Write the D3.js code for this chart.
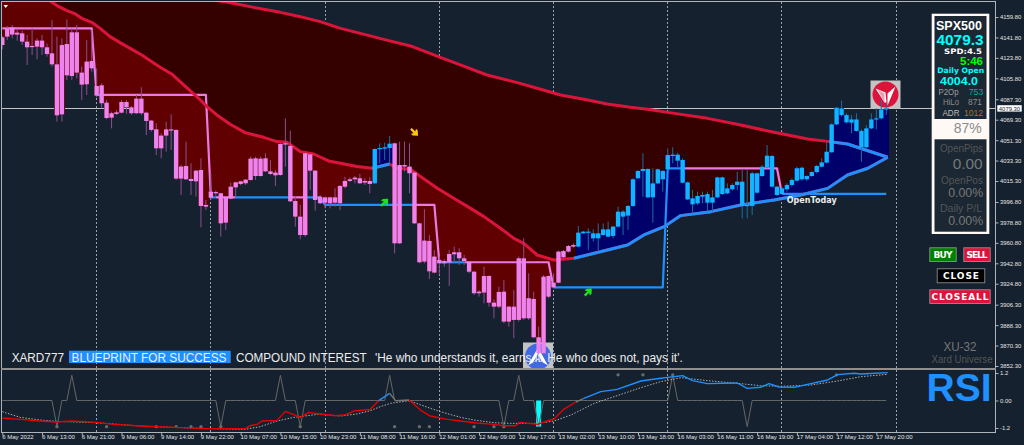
<!DOCTYPE html>
<html><head><meta charset="utf-8">
<script src="https://cdnjs.cloudflare.com/ajax/libs/d3/7.8.5/d3.min.js"></script>
<style>html,body{margin:0;padding:0;background:#15212e;overflow:hidden}svg{display:block}</style>
</head><body><svg id="c" width="1024" height="445"></svg>
<script>
const bodyTop=[4141.9,4149.8,4150.7,4146,4145.4,4138.1,4134.3,4139,4139,4133.1,4127.8,4118.1,4135.1,4136,4146.3,4146.3,4110.8,4120.5,4121,4099,4099.6,4084.3,4075,4075.8,4084.9,4084.9,4080.2,4087.9,4087.9,4075.5,4068.5,4060.8,4055.3,4060.8,4060.8,4060.3,4028,4028.5,4017.1,4024.4,4025,3994.2,4005.9,4005.6,4004.5,4001.5,4010.3,4014.1,4015,4016.5,4035,4035.3,4035,4035.3,4023.8,4022.7,4047.9,4048.5,4046.2,3997.7,3983.9,4039.7,4038.8,4024.4,4001.5,4000.9,4000.9,4000.9,4010.9,
4015.3,4016.8,4018.3,4017.7,4015.3,4015.3,4043.5,4044.4,4045,4048.2,4048.5,4029.4,4029.4,4028,4022.7,3978,3962.8,3962.5,3948.7,3945.7,3944.8,3951,3952.5,3952.5,3947.2,3944.3,3935.4,3917.8,3931.6,3931.6,3908.1,3917.5,3917.8,3904.6,3904.6,3947.2,3947.2,3912,3911.4,3877.6,3931,3931.6,3925.7,3953.1,3953.6,3958,3958.9,3969.8,3970.7,3970.7,3969.2,3969.2,3972.7,3972.7,3975.1,3988.3,3988.3,3993.3,4016.8,4024.1,
4025.9,4025.9,4013.2,4025.6,4024.1,4038.2,4038.5,4038.5,4033.8,4014.1,4000,4002.1,4003,4003.8,4000.9,4018.5,4018.5,4008.8,4011.8,4014.7,4014.7,3994.2,4022.1,4022.1,4027.9,4037.6,4037.3,4010.3,4008.8,4011.8,4016.2,4026.5,4027,4019.7,4023.2,4028.5,4031.7,4041.1,4065.2,4079.9,4079.3,4073.4,4069.6,4069.6,4059.4,4061.7,4069.6,4070.5,4078.4,4079.3];
const bodyBottom=[4135.1,4142.5,4144.3,4144.3,4138.1,4133.1,4133.4,4133.7,4133.1,4127.2,4118.1,4073.2,4074,4108.4,4107.8,4110.8,4100.2,4100.5,4114.6,4090.5,4083.8,4070.8,4071.1,4074.4,4075.5,4080.2,4075,4075,4075,4068.2,4060.3,4044.1,4044.1,4055.3,4059.7,4017.4,4017.4,4016.8,4015.3,4015,3993.3,3992.7,4000.6,4004.5,3978,3978.6,3999.8,4009.7,4012.7,4013.3,4016.2,4019.7,4019.7,4023.8,4021.5,4020.3,4020.6,4047.9,3997.4,3983.9,3967.7,3967.7,4024.4,3998.6,3995.7,3996.2,3995.7,3996.2,3995.7,
4010.3,4015.3,4016.8,4013.3,4013.9,4012.7,4013.3,4043.5,4043.8,4044.4,3960.4,3960.4,4028,4022.1,3978,3943.7,3944.3,3935.7,3934.6,3942.8,3942.8,3943.4,3950.7,3947.2,3944.8,3935.4,3916.4,3916.4,3917,3908.1,3904.6,3904.6,3891.4,3891.4,3892.9,3892.9,3894.3,3894.3,3877.6,3863.5,3863.5,3913.4,3921.6,3925.7,3948.1,3953.1,3957.5,3957.5,3969.2,3969.8,3964.8,3964.8,3967.7,3966.3,3966.9,3975.1,3983.9,3984.8,3993.3,4017.7,
4024.1,4000.9,4000.9,4013.2,4016.8,4025.6,4037.3,4033.2,4013.8,3999.1,3994.7,3995.6,4001.5,3996.2,3996.2,4000.9,4003.8,4004.4,4008,4011.8,3993.3,3993.3,3993.3,4005,4019.7,4027.3,4010.3,4003,4003.8,4008,4011.8,4015.6,4016.8,4016.8,4019.7,4023.2,4027.9,4031.5,4040.6,4065.2,4073.4,4067,4066.7,4059.4,4045,4045,4061.7,4069.6,4070.5,4078.4];
const highs=[4143.1,4151.9,4152.8,4148.4,4147.8,4144,4149.8,4141,4144,4136.6,4157.2,4142.5,4141,4157.8,4149.8,4152.8,4116.1,4139.6,4148.4,4114.6,4101.4,4086.7,4076.4,4077.9,4086.7,4086.7,4081.4,4091.1,4097.9,4076.4,4069.1,4066.1,4057.3,4067.6,4074,4060.8,4029.4,4050,4030.9,4025,4035.3,3998.6,4022.1,4006.8,4005,4002.1,4013.8,4014.7,4015.6,4017.1,4036.8,4036.8,4036.8,4039.7,4033.8,4025,4048.5,4070.5,4059.7,4001.5,3994.2,4040.3,4039.7,4025,4003,4001.5,4001.5,4008.9,4011.8,
4019.1,4018.6,4019.7,4021.5,4017.7,4018.6,4044.1,4048.5,4049.1,4055,4049.1,4050,4050,4048.5,4023.3,3978.6,3990.4,3967.7,3954.5,3948.7,3946.3,3954.5,3957.5,3956,3950.1,3944.8,3936,3919.3,3939.8,3932.2,3911,3922.2,3928.1,3905.2,3919.3,3948.7,3964.8,3934,3917.8,3887,3932.5,3932.2,3934,3954,3954.5,3958.9,3960.4,3975.7,3971.3,3973.6,3972.7,3978,3978,3979.5,3975.7,3992.7,3989.8,3994.2,4017.7,4025,
4039.7,4026.5,4026.5,4026.2,4025,4044.1,4045,4040.3,4035.3,4014.7,4007.4,4005.9,4005.9,4005.9,4007.4,4019.1,4019.1,4013.2,4013.2,4023.5,4025,4025,4023.5,4022.6,4029.4,4047,4038.2,4010.9,4010.3,4013.2,4017.7,4027.9,4027.9,4020.3,4023.8,4029.4,4035.3,4049.9,4066.1,4080.2,4086.1,4074.9,4073.4,4074.9,4060.8,4064.6,4074.9,4079.3,4086.7,4083.7];
const lows=[4131.3,4139.6,4141,4139,4135.1,4117.5,4126.3,4122.5,4126.3,4124.9,4116.1,4067.6,4067.6,4104.3,4104.3,4105.8,4086.7,4091.1,4111.7,4089,4079.3,4069.7,4061.7,4073.5,4075,4074.4,4073.5,4074.4,4073.5,4055.9,4058.8,4038.2,4035.3,4041.2,4042.6,4016.2,4003,4016.2,4003,4001.5,3974.5,3989.8,3998.6,4001.5,3966.3,3972.1,3999.2,4001.5,4011.5,4011.8,4015.6,4016.2,4019.1,4023.3,4020.6,4010.9,4020,4028,3996.8,3975.1,3963.9,3966.3,4007.4,3989.2,3995,3991.2,3991.2,3992.7,3989.8,
4008.9,4014.4,4013.3,4012.7,4011.8,4004.5,4012.7,4030.9,4033.8,4030.9,3951.6,3959.8,4023.6,4004.5,3977.4,3942.8,3942.8,3929,3934,3932.5,3939.8,3922.8,3942.8,3941.3,3941.3,3934,3914.9,3913.4,3907.5,3904.6,3894.3,3903.1,3889.9,3887,3876.7,3891.4,3892.9,3892.9,3876.7,3862.9,3862,3912,3920.8,3925.2,3947.2,3952.2,3956.6,3956.9,3968.6,3954.5,3961.9,3954.5,3967.2,3965.7,3964.8,3974.5,3967.7,3972.2,3992.7,4017.1,
4001.5,4000,3978.6,4012.7,4005.9,4025,4030.9,4026.5,4013.2,3998.6,3986.8,3994.2,3995.6,3988.3,3988.3,4000,4003,4003.8,4006.8,4007.4,3982.4,3982.4,3985.3,4004.4,4019.1,4026.5,4009.7,4002.1,4003,4005.9,4010.3,4014.7,4015.6,4015.6,4019.1,4022.1,4027.3,4030.9,4040.3,4064.6,4072,4066.1,4057.3,4058.8,4032.3,4044.1,4060.8,4060.8,4069.6,4073.4];
const risingBars=[[75,78],[116,178]];

const fastBars=[0,9.9,11,13,14.7,16,18,19.7,21.7,23.7,26.1,28.1,29.8,31.8,34.1,35.8,37.8,39.9,41.2,43.2,45.9,48.9,52.6,55.3,57.3,60,62.7,65.7,68.1,71.4,74.5,78,79.5,82.2,84.2,87.6,90.9,94.3,97,100.3,103,105,107.7,111.1,115.1,119.2,125.9,129.2,133.3,136.6,142.7,148.7,155.4,160.8,166.2,170.2,174.3,178.3];
const fastVals=[4200,4173.3,4169.8,4165.4,4162.5,4158.6,4155.1,4149.8,4142.5,4137.2,4131.3,4126.3,4121.3,4115.5,4109.6,4102.8,4094.9,4086.7,4080.8,4073.5,4065.3,4057.9,4053.8,4050,4049.4,4041.2,4039.1,4033,4030.9,4028,4026.5,4030.3,4026.5,4025.6,4019.2,4008.9,4000.1,3991.2,3983.9,3973.6,3964.8,3960.4,3950.1,3945.7,3947.2,3951.6,3958.9,3967.8,3975.1,3984.8,3988.3,3994.2,3998.6,4003,4008.8,4020.6,4026.5,4036.2];
const fastUp=[[74.5,78],[115.1,178.3]];
const slowBars=[0,43.5,46.6,50.6,56,60,64,68.1,72.1,76.8,82.2,88.2,92.9,97.6,103.7,108.4,112.4,117.1,121.8,126.5,129.9,135.3,142,148.7,155.4,162.2,166.5,170.2,178.3];
const slowVals=[4240,4174.2,4171.9,4168.3,4163.9,4160.1,4155.7,4149.8,4145.4,4140.1,4134.3,4124.3,4116.6,4108.7,4102,4096.1,4091.1,4087.3,4083.2,4080.2,4078.5,4074.9,4070.5,4064.6,4058.2,4052.3,4050,4047.9,4036.2];
const slowUp=[[166.5,178.3]];

const dayStart=[0,19,42,65,88,111,134,157];
const dayOpen=[4149.8,4091.1,4000.9,3994.2,3943.7,3921.6,4026.5,4004.0];
const openAbove=[[19,20],[42,43],[47,58],[61,83],[88,93],[111,137],[157,178]];
const openBelow=[[0,19],[20,42],[43,47],[58,61],[83,88],[93,111],[137,157]];

const rsiBars=[0,3.6,7.6,11,14,19,22.4,27.8,34.5,39.9,48.9,49.9,51.3,52.3,55.3,57,60,61.7,64,67.1,69.1,71.1,74.1,75.8,78,79.2,81.9,84.2,86.2,89.6,92.3,95.6,99,101,103.4,104.2,107.7,109.7,111.1,113.1,115.5,117.1,120.5,123.8,128.6,132.6,137,139,142,148,150,152.7,154.4,156.4,159.5,162.8,166.2,168.2,171.5,172.9,178.3];
const rsiVals=[-0.765,-0.823,-0.896,-0.94,-0.896,-0.954,-1.042,-1.114,-1.173,-1.216,-1.231,-1.1,-1.042,-0.896,-0.867,-0.474,-0.736,-0.517,-0.59,-0.663,-0.62,-0.445,-0.386,-0.008,0.312,-0.008,0.021,-0.416,-0.678,-0.823,-0.896,-0.983,-1.042,-1.1,-1.1,-0.954,-1.042,-0.896,-0.809,-0.372,-0.066,0.094,0.385,0.487,0.851,0.968,1.084,0.866,0.735,0.764,0.531,0.575,0.735,0.589,0.575,0.735,0.895,1.128,1.186,1.157,1.215];
const rsiColour=[[0,75.8,"#e60000"],[75.8,78,"#1e90ff"],[78,81.9,"#777777"],[81.9,115.5,"#e60000"],[115.5,117.1,"#777777"],[117.1,178.3,"#1e90ff"]];
const sigBars=[0,3.6,7.6,11,19,27.8,34.5,39.9,48.9,51.9,55.3,58.7,64,68.1,71.4,74.1,76.1,78.2,81.9,84.9,88.2,92.3,95,99,102.4,107.7,111.1,114.5,119.2,123.2,128.6,132.6,136.7,142,148,152.7,156.8,162.8,168.2,172.9,178.3];
const sigVals=[-0.488,-0.736,-0.852,-0.911,-0.969,-1.114,-1.173,-1.216,-1.26,-1.144,-0.896,-0.736,-0.59,-0.678,-0.59,-0.445,-0.27,-0.124,-0.008,-0.241,-0.488,-0.736,-0.852,-0.969,-0.998,-0.998,-0.896,-0.634,-0.124,0.167,0.56,0.822,0.997,0.866,0.749,0.647,0.618,0.676,0.851,1.04,1.142];
const spikeUp=[14,56,78,104,135];
const spikeDown=[11,44,60,101,108,150];
const dotLow=[11,21,31,35,38,40,44,60,79,84,86,95,99,101];
const dotHigh=[124,129,135,168];
const cyanBars=[108];

const priceTicks=[4159.8,4141.8,4123.8,4105.8,4087.3,4069.3,4051.3,4033.3,4015.3,3996.8,3978.8,3960.8,3942.8,3924.8,3906.3,3888.3,3870.3,3852.3];
const lastPrice=4079.3;
const rsiTicks=[1.2,0,-1.2];
const rsiTickLabels=["1.2","0.00","-1.2"];
const timeLabels=["6 May 2022","6 May 13:00","6 May 21:00","9 May 06:00","9 May 14:00","9 May 22:00","10 May 07:00","10 May 15:00","10 May 23:00","11 May 08:00","11 May 16:00","12 May 01:00","12 May 09:00","12 May 17:00","13 May 02:00","13 May 10:00","13 May 18:00","16 May 03:00","16 May 11:00","16 May 19:00","17 May 04:00","17 May 12:00","17 May 20:00"];
const dayGrid=[19,42,65,88,111,134,157,180];
const arrowsDown=[[83,4058.2]];
const arrowsUp=[[77,3996.5],[118,3917.5]];

const BG="#15212e",FONT="'Liberation Sans',Arial,sans-serif",DV="'DejaVu Sans',sans-serif";
const svg=d3.select("#c");
svg.append("rect").attr("width",1024).attr("height",445).attr("fill",BG);
const defs=svg.append("defs");
defs.append("clipPath").attr("id","mainClip").append("rect").attr("x",2).attr("y",2).attr("width",993).attr("height",366);

const x=d3.scaleLinear().domain([0,178]).range([2.3,2.3+4.966*178]);
const y=d3.scaleLinear().domain([4159.8,3852.3]).range([17,366]);
const yr=d3.scaleLinear().domain([1.2,-1.2]).range([373,428]);
const fastAt=d3.scaleLinear().domain(fastBars).range(fastVals);
const slowAt=d3.scaleLinear().domain(slowBars).range(slowVals);
const bars=d3.range(bodyTop.length);
const isUp=i=>risingBars.some(r=>i>=r[0]&&i<=r[1]);
const stepVal=i=>dayOpen[d3.bisectRight(dayStart,i)-1];
const inRange=(a,r,key)=>a.filter(d=>key(d)>=r[0]&&key(d)<=r[1]);

svg.append("g").selectAll("line").data(dayGrid).join("line")
  .attr("x1",d=>x(d)).attr("x2",d=>x(d)).attr("y1",2).attr("y2",432)
  .attr("stroke","#9aa3ab").attr("stroke-width",1).attr("stroke-dasharray","2,2").attr("shape-rendering","crispEdges");
svg.append("line").attr("x1",1).attr("x2",996).attr("y1",y(lastPrice)).attr("y2",y(lastPrice))
  .attr("stroke","#c4c4c4").attr("shape-rendering","crispEdges");

const main=svg.append("g").attr("clip-path","url(#mainClip)");
const bw=x(1)-x(0);
main.append("path").attr("fill","#350000").attr("d",
  d3.area().x(d=>x(d)).y0(d=>y(slowAt(d))).y1(d=>y(fastAt(d)))(d3.merge([bars.map(i=>i-0.5),[178.5]])));
main.append("g").selectAll("rect").data(bars).join("rect")
  .attr("x",i=>x(i)-bw/2).attr("width",bw+0.4)
  .attr("y",i=>{const f=fastAt(i);return isUp(i)?y(Math.max(bodyTop[i],f)):y(f);})
  .attr("height",i=>{const f=fastAt(i);
    return isUp(i)?Math.abs(y(f)-y(Math.max(bodyTop[i],f))):Math.max(0,y(bodyBottom[i])-y(f));})
  .attr("fill",i=>isUp(i)?"#00006b":"#600000").attr("shape-rendering","crispEdges");

function logo(cx,cy,box,fill,kind){
  const g=svg.append("g");
  g.append("rect").attr("x",cx-15).attr("y",cy-14).attr("width",30).attr("height",box).attr("fill","#c3c3c3");
  g.append("circle").attr("cx",cx).attr("cy",cy).attr("r",13).attr("fill",fill);
  if(kind==="star"){
    g.append("path").attr("fill","#fff").attr("d","M-10,-6L0,-2L1,8L-1,8Z M10,-8L2,-1L2,11L5,4Z").attr("transform",`translate(${cx},${cy})`);
    g.append("path").attr("fill","#e9a0b0").attr("d","M-8,-5L-1,-1L-1,8Z").attr("transform",`translate(${cx},${cy})`);
  }else{
    g.append("path").attr("fill","#fff").attr("d","M-10,9L0,-9L10,9L0,3Z").attr("transform",`translate(${cx},${cy})`);
    g.append("path").attr("fill","#4169e1").attr("d","M-5,6L0,-3L4,6L0,2Z").attr("transform",`translate(${cx},${cy})`);
  }
  return g;
}
logo(885.5,94.5,28,"#dc143c","star");
logo(538,356.5,25.5,"#4169e1","peak");

const candles=svg.append("g").attr("clip-path","url(#mainClip)");
candles.selectAll("line").data(bars).join("line")
  .attr("x1",i=>x(i)).attr("x2",i=>x(i)).attr("y1",i=>y(highs[i])).attr("y2",i=>y(lows[i]))
  .attr("stroke",i=>isUp(i)?"#1a6f9c":"#8a4f90").attr("stroke-width",1);
candles.selectAll("rect").data(bars).join("rect")
  .attr("x",i=>x(i)-2.2).attr("width",4.4)
  .attr("y",i=>y(bodyTop[i])).attr("height",i=>Math.max(1.2,y(bodyBottom[i])-y(bodyTop[i])))
  .attr("fill",i=>isUp(i)?"#10b4ff":"#ee82ee");

const stepLine=d3.line().x(i=>x(i)).y(i=>y(stepVal(i)));
function stepSeg(ranges,col){
  main.append("g").selectAll("path").data(ranges).join("path")
    .attr("fill","none").attr("stroke",col).attr("stroke-width",2.2).attr("stroke-linejoin","round")
    .attr("d",r=>stepLine(d3.range(r[0],r[1]+1)));
}
stepSeg(openBelow,"#ec78e4");
stepSeg(openAbove,"#1e90ff");

function maDraw(bx,vals,ups,w){
  const pts=bx.map((b,k)=>[b,vals[k]]);
  const l=d3.line().x(d=>x(d[0])).y(d=>y(d[1]));
  main.append("path").attr("fill","none").attr("stroke","#dc143c").attr("stroke-width",w).attr("stroke-linejoin","round").attr("d",l(pts));
  ups.forEach(r=>main.append("path").attr("fill","none").attr("stroke","#1e90ff").attr("stroke-width",w).attr("stroke-linejoin","round")
    .attr("d",l(inRange(pts,r,d=>d[0]))));
}
maDraw(slowBars,slowVals,slowUp,3);
maDraw(fastBars,fastVals,fastUp,3);

function arrow(d,col,down){
  const g=svg.append("g").attr("transform",`translate(${x(d[0])},${y(d[1])}) rotate(${down?45:-45})`);
  g.append("path").attr("fill",col).attr("d","M-5,-1.2L0,-1.2L-1.5,-3.6L1,-3.6L5,0L1,3.6L-1.5,3.6L0,1.2L-5,1.2Z");
}
arrowsDown.forEach(d=>arrow(d,"#ffc800",true));
arrowsUp.forEach(d=>arrow(d,"#1fe01f",false));

function T(px,py,s,o={}){
  const t=svg.append("text").attr("x",px).attr("y",py).attr("dy","0.36em").text(s)
    .attr("font-family",o.fam||FONT).attr("font-size",o.size||10).attr("fill",o.fill||"#fff")
    .attr("text-anchor",o.anchor||"middle").attr("font-weight",o.weight||"normal");
  if(o.len){t.attr("textLength",o.len).attr("lengthAdjust",o.adj||"spacingAndGlyphs");}
  return t;
}
T(536,200,"OpenToday",{fam:DV,size:8,len:50,adj:"spacing"}).attr("x",786.7).attr("text-anchor","start").attr("font-weight","bold").attr("fill","#eee");

svg.append("path").attr("d","M3.5,5L8,5L5.7,8Z").attr("fill","#fff");

T(11.7,358,"XARD777",{size:12,anchor:"start",len:52.3,fill:"#eee"});
svg.append("rect").attr("x",69).attr("y",350.7).attr("width",161.7).attr("height",12.3).attr("fill","#1e90ff");
T(71.5,358,"BLUEPRINT FOR SUCCESS",{size:12,anchor:"start",len:155,fill:"#eee"});
T(236,358,"COMPOUND INTEREST",{size:12,anchor:"start",len:130.7,fill:"#eee"});
T(375,358,"'He who understands it, earns it. He who does not, pays it'.",{size:12,anchor:"start",len:307.7,fill:"#eee"});

const frame="#aeb4ba";
svg.append("path").attr("fill","none").attr("stroke",frame).attr("shape-rendering","crispEdges")
  .attr("d","M1.5,432.5L1.5,1.5L995.5,1.5L995.5,432.5Z");
svg.append("rect").attr("x",1).attr("y",368).attr("width",995).attr("height",2).attr("fill","#8f8f8f");

const yAxis=d3.axisRight(y).tickValues(priceTicks).tickFormat(d=>d.toFixed(2)).tickSize(3).tickPadding(1);
const gy=svg.append("g").attr("transform","translate(995.5,0)").call(yAxis);
gy.select(".domain").remove();
gy.selectAll("line").attr("stroke","#b5b5b5");
gy.selectAll("text").attr("font-family",FONT).attr("font-size",5.9).attr("fill","#e6e6e6").attr("dx",0.5);
const ryAxis=d3.axisRight(yr).tickValues(rsiTicks).tickFormat((d,k)=>rsiTickLabels[k]).tickSize(3).tickPadding(1);
const gr=svg.append("g").attr("transform","translate(995.5,0)").call(ryAxis);
gr.select(".domain").remove();
gr.selectAll("line").attr("stroke","#b5b5b5");
gr.selectAll("text").attr("font-family",FONT).attr("font-size",5.9).attr("fill","#e6e6e6").attr("dx",0.5);
const labelBars=timeLabels.map((_,k)=>k*8);
const xAxis=d3.axisBottom(x).tickValues(labelBars).tickFormat((d,k)=>timeLabels[k]).tickSize(3).tickPadding(0);
const gx=svg.append("g").attr("transform","translate(0,432.5)").call(xAxis);
gx.select(".domain").remove();
gx.selectAll("line").attr("stroke","#b5b5b5");
gx.selectAll("text").attr("font-family",FONT).attr("font-size",6).attr("fill","#e6e6e6").attr("text-anchor","start").attr("dx",-0.6).attr("y",2).attr("dy","0.71em");

svg.append("rect").attr("x",997.3).attr("y",105.2).attr("width",24.4).attr("height",6.4).attr("fill","#fff");
T(1009.5,108.4,"4079.30",{size:5.9,fill:"#15212e"});

const sub=svg.append("g");
sub.selectAll("rect.cy").data(cyanBars).join("rect").attr("class","cy")
  .attr("x",i=>x(i)-2.5).attr("width",5).attr("y",yr(0)).attr("height",yr(-1.14)-yr(0)).attr("fill","#00ffff");
const spikeLine=d3.line().x(d=>x(d[0])).y(d=>yr(d[1]));
const spikePts=bars.map(i=>[i,spikeUp.includes(i)?1.1:spikeDown.includes(i)?-1.14:0]);
sub.append("path").attr("fill","none").attr("stroke","#666").attr("stroke-width",1).attr("d",spikeLine(spikePts));
sub.selectAll("circle.l").data(dotLow).join("circle").attr("class","l").attr("cx",d=>x(d)).attr("cy",yr(-1.14)).attr("r",1.7).attr("fill","#6b6b6b");
sub.selectAll("circle.h").data(dotHigh).join("circle").attr("class","h").attr("cx",d=>x(d)).attr("cy",yr(1.12)).attr("r",1.7).attr("fill","#6b6b6b");
const sigPts=sigBars.map((b,k)=>[b,sigVals[k]]);
sub.append("path").attr("fill","none").attr("stroke","#bdbdbd").attr("stroke-width",0.9).attr("stroke-dasharray","1.5,1.5").attr("d",spikeLine(sigPts));
const rsiPts=rsiBars.map((b,k)=>[b,rsiVals[k]]);
rsiColour.forEach(r=>sub.append("path").attr("fill","none").attr("stroke",r[2]).attr("stroke-width",1.4)
  .attr("stroke-linejoin","round").attr("d",spikeLine(inRange(rsiPts,r,d=>d[0]))));
T(926.5,387.5,"RSI",{size:38,weight:"bold",anchor:"start",fill:"#1e90ff",len:65});

T(960,346.7,"XU-32",{size:12,fill:"#767676",len:33});
T(962,359,"Xard Universe",{size:10.5,fill:"#565656",len:61});

svg.append("rect").attr("x",931.7).attr("y",13.7).attr("width",57.6).attr("height",220.3).attr("fill","#fff9f6");
svg.append("rect").attr("x",934.5).attr("y",16).attr("width",52).attr("height",103).attr("fill","#1b2733");
svg.append("rect").attr("x",934.5).attr("y",139.3).attr("width",52).attr("height",92.4).attr("fill","#1b2733");
T(959,25,"SPX500",{size:12.5,weight:"bold",len:46});
T(960,40,"4079.3",{size:14,weight:"bold",fill:"#00ffff",len:47});
T(963,51.5,"SPD:4.5",{fam:DV,size:7.5,weight:"bold",len:38});
T(971.5,61,"5:46",{size:10,weight:"bold",fill:"#00ff00",len:23});
T(960.7,70.7,"Daily Open",{fam:DV,size:7.5,weight:"bold",fill:"#00ffff",len:47});
T(959,81,"4004.0",{size:11.5,weight:"bold",fill:"#00ffff",len:38});
T(948.5,92,"P2Op",{size:9,fill:"#a0a0a0",len:20});
T(976,92,"753",{size:9,fill:"#1aa0a0",len:14.5});
T(951,102,"HiLo",{size:9,fill:"#8c8c8c",len:16});
T(975,102,"871",{size:9,fill:"#8c8c8c",len:14});
T(951,112.7,"ADR",{size:9,fill:"#bdbdbd",len:17});
T(973.5,112.7,"1012",{size:9,fill:"#b0702a",len:19});
T(967.7,128,"87%",{size:14,fill:"#8a8a8a",len:28});
T(961.5,148.7,"OpenPips",{size:10.5,fill:"#555",len:43});
T(967.7,163,"0.00",{size:15.5,fill:"#787878",len:30});
T(962,180,"OpenPos",{size:10.5,fill:"#555",len:42});
T(965.7,193,"0.00%",{size:12.4,fill:"#787878",len:35});
T(961,208,"Daily P/L",{size:10.5,fill:"#555",len:42});
T(965.7,221,"0.00%",{size:12.4,fill:"#787878",len:35});

function btn(bx,by,w,h,fill,s,len){
  svg.append("rect").attr("x",bx+0.5).attr("y",by+0.5).attr("width",w-1).attr("height",h-1).attr("fill",fill).attr("stroke","#9a9a9a").attr("stroke-width",0.8);
  T(bx+w/2,by+h/2,s,{fam:DV,size:9,weight:"bold",len:len,adj:"spacing"});
}
btn(929.3,247.3,27.4,14.8,"#008000","BUY",19);
btn(963.3,247.3,27.4,14.8,"#dc143c","SELL",21);
btn(936.7,268.3,48.6,15,"#000000","CLOSE",36);
btn(929.3,289.3,61.4,14.8,"#dc143c","CLOSEALL",57);
</script></body></html>
